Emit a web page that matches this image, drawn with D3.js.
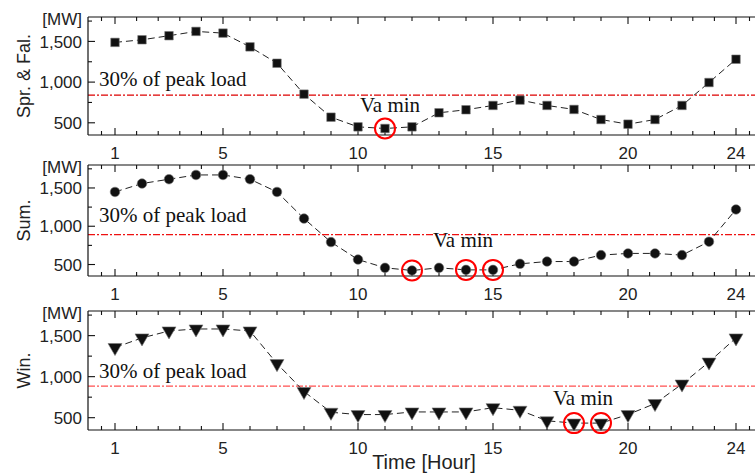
<!DOCTYPE html>
<html>
<head>
<meta charset="utf-8">
<script src="https://cdn.jsdelivr.net/npm/d3@7"></script>
<style>
  body { margin: 0; background: #fff; }
  svg { display: block; }
  .tick-label { font-family: "Liberation Sans", Arial, sans-serif; font-size: 17px; fill: #222; }
  .ax-title { font-family: "Liberation Sans", Arial, sans-serif; font-size: 18px; fill: #222; }
  .note { font-family: "Liberation Serif", "Times New Roman", serif; font-size: 21px; fill: #111; }
</style>
</head>
<body>
<script>
// data (MW per hour)
var hours = d3.range(1, 25);
var sprFal = [1488, 1520, 1570, 1623, 1602, 1433, 1232, 852, 569, 450, 430, 450,
              623, 660, 713, 779, 713, 664, 540, 483, 540, 713, 995, 1281];
var summer = [1448, 1558, 1614, 1670, 1670, 1614, 1448, 1100, 793, 565, 457, 422,
              457, 430, 430, 509, 539, 539, 623, 645, 645, 623, 798, 1219];
var winter = [1355, 1472, 1557, 1581, 1581, 1557, 1159, 819, 566, 538, 538, 570,
              570, 570, 622, 590, 462, 434, 434, 538, 672, 910, 1178, 1472];
var peakLine = [840, 890, 885];           // 30% of peak load
var vaMinHours = [[11], [12, 14, 15], [18, 19]];
var seriesNames = ['Spr. & Fal.', 'Sum.', 'Win.'];
var markerTypes = ['square', 'circle', 'triangle'];

var xMajor = [1, 5, 10, 15, 20, 24];
var xMinor = [0.5, 1.8, 2.6, 3.4, 4.2, 6, 7, 8, 9, 11, 12, 13, 14, 16, 17, 18, 19,
              20.8, 21.6, 22.4, 23.2, 24.5];
var yMajor = [500, 1000, 1500];
var yMinor = [750, 1250, 1750];

var W = 755, H = 475;
var left = 88;

var svg = d3.select('body').append('svg')
  .attr('width', W)
  .attr('height', H);

var xScale = d3.scaleLinear().domain([0, 25]).range([left, left + 27 * 25]);

// panel boxes (top, bottom) and note positions
var panels = [
  {top: 17, bottom: 135, data: sprFal, labelX: 99, labelY: 86, vaX: 360, vaY: 112},
  {top: 165, bottom: 276, data: summer, labelX: 99, labelY: 222, vaX: 433, vaY: 247},
  {top: 311, bottom: 430, data: winter, labelX: 99, labelY: 378, vaX: 553, vaY: 405}
];
var lineColors = ['#dd0000', '#ee1111', '#ff5050'];

panels.forEach(function(p, k) {
  var yScale = d3.scaleLinear().domain([350, 1800]).range([p.bottom, p.top]);
  var g = svg.append('g');

  // reference line
  g.append('line')
    .attr('x1', left).attr('x2', W)
    .attr('y1', yScale(peakLine[k])).attr('y2', yScale(peakLine[k]))
    .attr('stroke', lineColors[k])
    .attr('stroke-width', 1.2)
    .attr('stroke-dasharray', '7,2,2,2');

  // frame: top, bottom, left
  g.append('line').attr('x1', left).attr('x2', W).attr('y1', p.top).attr('y2', p.top)
    .attr('stroke', '#111').attr('stroke-width', 1.2);
  g.append('line').attr('x1', left).attr('x2', W).attr('y1', p.bottom).attr('y2', p.bottom)
    .attr('stroke', '#111').attr('stroke-width', 1.2);
  g.append('line').attr('x1', left).attr('x2', left).attr('y1', p.top).attr('y2', p.bottom)
    .attr('stroke', '#111').attr('stroke-width', 1.2);

  // x ticks, inward on top and bottom
  function xTicks(vals, len) {
    vals.forEach(function(v) {
      var x = xScale(v);
      g.append('line').attr('x1', x).attr('x2', x).attr('y1', p.top).attr('y2', p.top + len)
        .attr('stroke', '#111').attr('stroke-width', 1.1);
      g.append('line').attr('x1', x).attr('x2', x).attr('y1', p.bottom).attr('y2', p.bottom - len)
        .attr('stroke', '#111').attr('stroke-width', 1.1);
    });
  }
  xTicks(xMajor, 7);
  xTicks(xMinor, 4);

  g.selectAll('.xl').data(xMajor).enter().append('text')
    .attr('class', 'tick-label')
    .attr('x', function(d) { return xScale(d); })
    .attr('y', p.bottom + 24)
    .attr('text-anchor', 'middle')
    .text(function(d) { return d; });

  // y ticks
  yMajor.forEach(function(v) {
    g.append('line').attr('x1', left).attr('x2', left + 7)
      .attr('y1', yScale(v)).attr('y2', yScale(v))
      .attr('stroke', '#111').attr('stroke-width', 1.1);
  });
  yMinor.forEach(function(v) {
    g.append('line').attr('x1', left).attr('x2', left + 4)
      .attr('y1', yScale(v)).attr('y2', yScale(v))
      .attr('stroke', '#111').attr('stroke-width', 1.1);
  });
  g.selectAll('.yl').data(yMajor).enter().append('text')
    .attr('class', 'tick-label')
    .attr('x', left - 6)
    .attr('y', function(d) { return yScale(d); })
    .attr('dy', '0.36em')
    .attr('text-anchor', 'end')
    .text(function(d) { return d3.format(',')(d); });

  g.append('text')
    .attr('class', 'tick-label')
    .attr('x', left - 6)
    .attr('y', p.top + 8)
    .attr('text-anchor', 'end')
    .text('[MW]');

  g.append('text')
    .attr('class', 'ax-title')
    .attr('text-anchor', 'middle')
    .attr('transform', 'translate(30,' + ((p.top + p.bottom) / 2) + ')rotate(-90)')
    .text(seriesNames[k]);

  // dashed data line
  var line = d3.line()
    .x(function(d, i) { return xScale(hours[i]); })
    .y(function(d) { return yScale(d); });
  g.append('path')
    .datum(p.data)
    .attr('d', line)
    .attr('fill', 'none')
    .attr('stroke', '#222')
    .attr('stroke-width', 1)
    .attr('stroke-dasharray', '7,4');

  // markers
  var sym = markerTypes[k] == 'square' ? d3.symbolSquare
          : markerTypes[k] == 'circle' ? d3.symbolCircle : d3.symbolTriangle;
  var size = markerTypes[k] == 'square' ? 72 : markerTypes[k] == 'circle' ? 72 : 84;
  g.selectAll('.pt').data(p.data).enter().append('path')
    .attr('d', d3.symbol().type(sym).size(size))
    .attr('transform', function(d, i) {
      var t = 'translate(' + xScale(hours[i]) + ',' + yScale(d) + ')';
      if (markerTypes[k] == 'triangle') t += 'rotate(180)';
      return t;
    })
    .attr('fill', '#111')
    .attr('stroke', '#777')
    .attr('stroke-width', 0.6);

  // Va min circles
  g.selectAll('.va').data(vaMinHours[k]).enter().append('circle')
    .attr('cx', function(d) { return xScale(d); })
    .attr('cy', function(d) { return yScale(p.data[d - 1]); })
    .attr('r', 10)
    .attr('fill', 'none')
    .attr('stroke', '#f00')
    .attr('stroke-width', 2);

  g.append('text').attr('class', 'note')
    .attr('x', p.labelX).attr('y', p.labelY)
    .text('30% of peak load');
  g.append('text').attr('class', 'note')
    .attr('x', p.vaX).attr('y', p.vaY)
    .text('Va min');
});

svg.append('text')
  .attr('class', 'ax-title')
  .attr('x', 424)
  .attr('y', 469)
  .attr('text-anchor', 'middle')
  .style('font-size', '20px')
  .text('Time [Hour]');
</script>
</body>
</html>
